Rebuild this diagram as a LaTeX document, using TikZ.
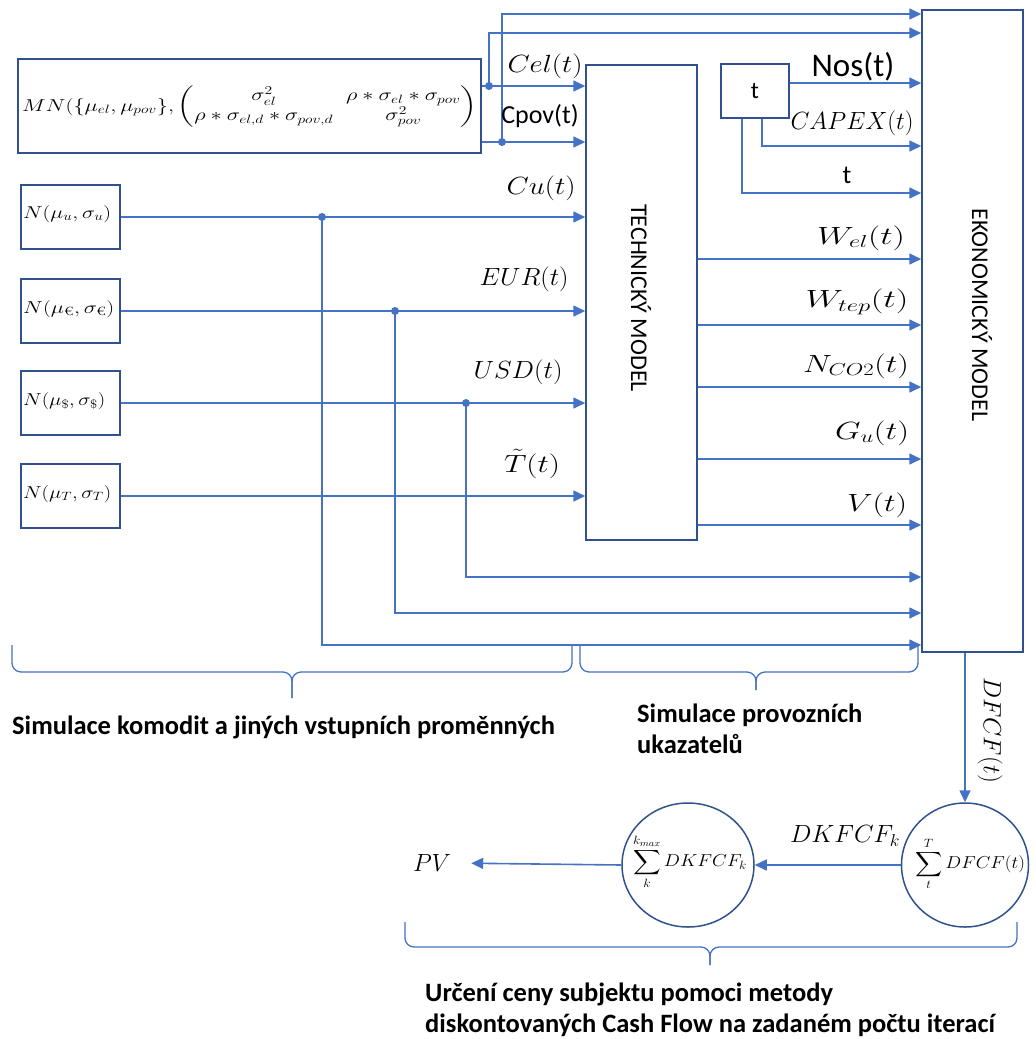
\documentclass[tikz,border=0pt]{standalone}
\usepackage{amsmath}
\usepackage{graphicx}
\usepackage{fontspec}
\newfontfamily\calibri{Carlito}
\usetikzlibrary{arrows.meta,shapes.geometric}
\definecolor{lineblue}{RGB}{68,114,196}
\definecolor{boxblue}{RGB}{47,82,143}
% stretch a label horizontally to a given width, keeping its height
\newsavebox{\fitbox}
\newcommand{\fitto}[2]{\sbox{\fitbox}{#2}\resizebox{#1}{\ht\fitbox}{\usebox{\fitbox}}}
\tikzset{
  box/.style={draw=boxblue, line width=1.5pt, inner sep=0pt},
  conn/.style={draw=lineblue, line width=1.6pt, -{Triangle[length=12pt,width=11pt]}},
  junction/.style={fill=lineblue},
  bigmath/.style={inner sep=0pt, font=\fontsize{27}{32}\selectfont},
  smallmath/.style={inner sep=0pt, font=\fontsize{17}{20}\selectfont},
  sanslab/.style={inner sep=0pt, font=\calibri\fontsize{26}{30}\selectfont},
  boldtext/.style={inner sep=0pt, font=\calibri\bfseries\fontsize{26.5}{31.5}\selectfont, align=left},
  bracket/.style={draw=lineblue, line width=1.3pt, rounded corners=9pt}
}
\begin{document}
\begin{tikzpicture}[x=1pt,y=-1pt]
\useasboundingbox (0,0) rectangle (1036,1039);

% ---- boxes ----
\node[box, minimum width=463pt, minimum height=94pt] (mn) at (249.5,106) {};
\node[smallmath, anchor=west] (mntext) at (22,107) {\fitto{455pt}{$MN(\{\mu_{el},\mu_{pov}\},\begin{pmatrix}\sigma_{el}^{2} & \rho*\sigma_{el}*\sigma_{pov}\\ \rho*\sigma_{el,d}*\sigma_{pov,d} & \sigma_{pov}^{2}\end{pmatrix}$}};

\node[box, minimum width=99pt, minimum height=64pt] (nu) at (70.5,217) {};
\node[box, minimum width=99pt, minimum height=64pt] (ne) at (70.5,311) {};
\node[box, minimum width=99pt, minimum height=64pt] (nd) at (70.5,403) {};
\node[box, minimum width=99pt, minimum height=64pt] (nt) at (70.5,496) {};
\node[smallmath, anchor=west] (nutext) at (23,214) {\fitto{88pt}{$N(\mu_{u},\sigma_{u})$}};
\node[smallmath, anchor=west] (netext) at (23,309) {\fitto{91pt}{$N(\mu_{\text{€}},\sigma_{\text{€}})$}};
\node[smallmath, anchor=west] (ndtext) at (23,401) {\fitto{82pt}{$N(\mu_{\$},\sigma_{\$})$}};
\node[smallmath, anchor=west] (nttext) at (23,494) {\fitto{88pt}{$N(\mu_{T},\sigma_{T})$}};

\node[box, minimum width=111pt, minimum height=475pt] (tm) at (641.5,302.5) {};
\node[sanslab, font=\calibri\fontsize{24}{28}\selectfont, rotate=-90] (tmtext) at (641,298) {TECHNICKÝ MODEL};

\node[box, minimum width=68pt, minimum height=54pt] (tb) at (755,91) {};
\node[sanslab, font=\calibri\fontsize{24}{28}\selectfont] (tbtext) at (755,91) {t};

\node[box, minimum width=101pt, minimum height=642pt] (em) at (972.5,331) {};
\node[sanslab, font=\calibri\fontsize{24}{28}\selectfont, rotate=-90] (emtext) at (982,315) {EKONOMICKÝ MODEL};

\node[box, ellipse, minimum width=127pt, minimum height=124pt] (c2) at (965,865) {};
\node[smallmath, font=\fontsize{18}{21}\selectfont] (c2text) at (970,864) {\fitto{110pt}{$\displaystyle\sum_{t}^{T} DFCF(t)$}};
\node[box, ellipse, minimum width=132pt, minimum height=124pt] (c1) at (688,865) {};
\node[smallmath, font=\fontsize{18}{21}\selectfont] (c1text) at (690,862) {\fitto{114pt}{$\displaystyle\sum_{k}^{k_{max}} DKFCF_{k}$}};
\node[bigmath] (pv) at (432,863) {\fitto{38pt}{$PV$}};

% ---- junction points and levels ----
\coordinate (d1) at (489,86);
\coordinate (d2) at (502,142);
\coordinate (k1) at (489,33);
\coordinate (k2) at (502,14);
\coordinate (j1) at (322,217);
\coordinate (j2) at (395,311);
\coordinate (j3) at (466,403);
\coordinate (b1) at (0,645);
\coordinate (b2) at (0,613);
\coordinate (b3) at (0,577);
\coordinate (ynos) at (0,83);
\coordinate (cx) at (762,146);
\coordinate (tt) at (742,193);
\coordinate (o1) at (0,259);
\coordinate (o2) at (0,325);
\coordinate (o3) at (0,387);
\coordinate (o4) at (0,459);
\coordinate (o5) at (0,525);

% ---- connectors ----
\draw[conn] (mn.east |- d1) -- (tm.west |- d1);
\draw[conn] (mn.east |- d2) -- (tm.west |- d2);
\draw[conn] (d1) |- (em.west |- k1);
\draw[conn] (d2) |- (em.west |- k2);
\fill[junction] (d1) circle (4pt);
\fill[junction] (d2) circle (4pt);

\draw[conn] (nu.east) -- (tm.west |- nu.east);
\draw[conn] (ne.east) -- (tm.west |- ne.east);
\draw[conn] (nd.east) -- (tm.west |- nd.east);
\draw[conn] (nt.east) -- (tm.west |- nt.east);
\draw[conn] (j1) |- (em.west |- b1);
\draw[conn] (j2) |- (em.west |- b2);
\draw[conn] (j3) |- (em.west |- b3);
\fill[junction] (j1) circle (4pt);
\fill[junction] (j2) circle (4pt);
\fill[junction] (j3) circle (4pt);

\draw[conn] (tb.east |- ynos) -- (em.west |- ynos);
\draw[conn] (tb.south -| cx) |- (em.west |- cx);
\draw[conn] (tb.south -| tt) |- (em.west |- tt);

\draw[conn] (tm.east |- o1) -- (em.west |- o1);
\draw[conn] (tm.east |- o2) -- (em.west |- o2);
\draw[conn] (tm.east |- o3) -- (em.west |- o3);
\draw[conn] (tm.east |- o4) -- (em.west |- o4);
\draw[conn] (tm.east |- o5) -- (em.west |- o5);

\draw[conn] (c2.north |- em.south) -- (c2.north);
\draw[conn] (c2.west) -- (c1.east);
\draw[conn, shorten >=20pt] (c1.west) -- (pv.east);

% ---- connector labels ----
\node[bigmath] (lcel) at (545,66) {\fitto{75pt}{$Cel(t)$}};
\node[sanslab] (lcpov) at (540,116) {Cpov(t)};
\node[bigmath] (lcu) at (541,188) {\fitto{69pt}{$Cu(t)$}};
\node[bigmath] (leur) at (524,279) {\fitto{89pt}{$EUR(t)$}};
\node[bigmath] (lusd) at (518,372) {\fitto{89pt}{$USD(t)$}};
\node[bigmath] (ltemp) at (532,464) {\fitto{56pt}{$\tilde{T}(t)$}};

\node[sanslab, font=\calibri\fontsize{33}{38}\selectfont] (lnos) at (853,67) {Nos(t)};
\node[bigmath] (lcapex) at (852,123) {\fitto{123pt}{$CAPEX(t)$}};
\node[sanslab] (lt) at (847,175) {t};

\node[bigmath] (lwel) at (861,238) {\fitto{88pt}{$W_{el}(t)$}};
\node[bigmath] (lwtep) at (857,302) {\fitto{103pt}{$W_{tep}(t)$}};
\node[bigmath] (lnco) at (856,366) {\fitto{106pt}{$N_{CO2}(t)$}};
\node[bigmath] (lgu) at (872,433) {\fitto{74pt}{$G_{u}(t)$}};
\node[bigmath] (lv) at (877,505) {\fitto{60pt}{$V(t)$}};

\node[bigmath, rotate=-90] (ldfcf) at (990,730) {\fitto{106pt}{$DFCF(t)$}};
\node[bigmath] (ldk) at (845,836) {\fitto{110pt}{$DKFCF_{k}$}};

% ---- braces ----
\draw[bracket] (12,645) -- (12,672) -- (292,672) -- (292,698);
\draw[bracket] (572,645) -- (572,672) -- (292,672) -- (292,698);
\draw[bracket] (580,645) -- (580,672) -- (756,672) -- (756,690);
\draw[bracket] (918,645) -- (918,672) -- (756,672) -- (756,690);
\draw[bracket] (405,922) -- (405,947) -- (710,947) -- (710,965);
\draw[bracket] (1017,922) -- (1017,947) -- (710,947) -- (710,965);

% ---- captions ----
\node[boldtext, anchor=west] (cap1) at (12,727) {Simulace komodit a jiných vstupních proměnných};
\node[boldtext, anchor=west] (cap2) at (637,729) {Simulace provozních\\ukazatelů};
\node[boldtext, anchor=west] (cap3) at (425,1010) {Určení ceny subjektu pomoci metody\\diskontovaných Cash Flow na zadaném počtu iterací};
\end{tikzpicture}
\end{document}
